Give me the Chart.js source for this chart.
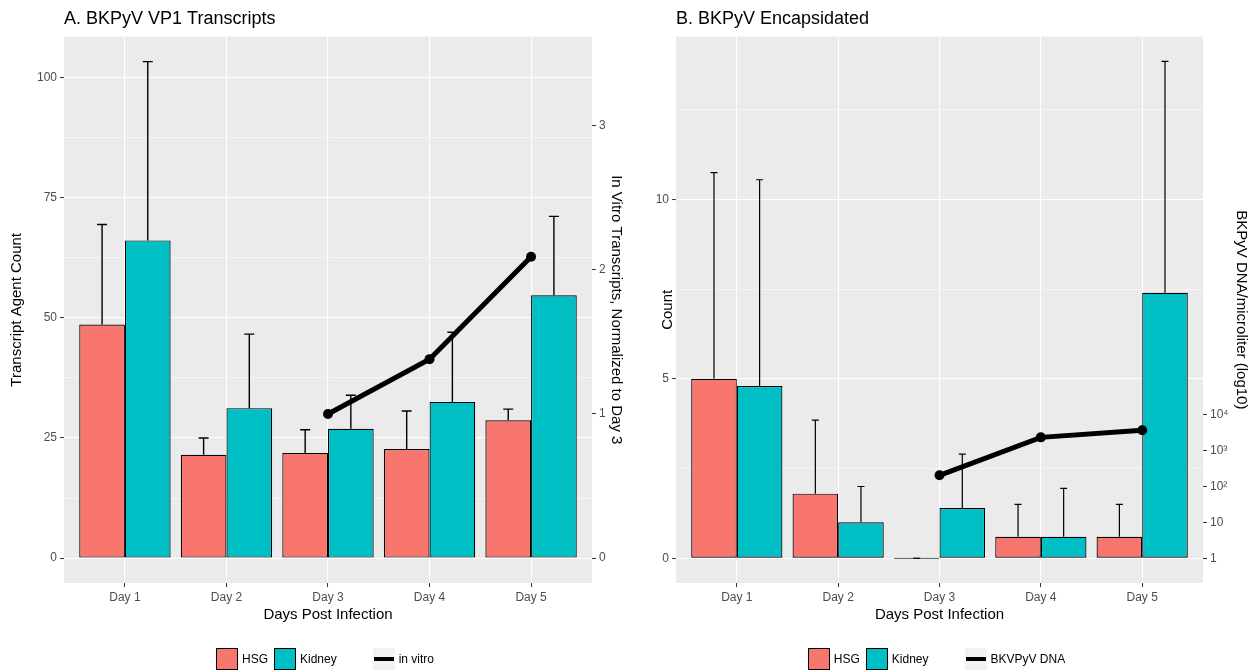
<!DOCTYPE html>
<html>
<head>
<meta charset="utf-8">
<script src="https://cdn.jsdelivr.net/npm/chart.js@4.4.1/dist/chart.umd.min.js"></script>
<style>
  body { margin: 0; background: #fff; font-family: "Liberation Sans", Arial, sans-serif; }
  #wrap { position: relative; width: 1252px; height: 671px; overflow: hidden; }
  .panel { position: absolute; top: 0; height: 671px; }
  .legend { position: absolute; top: 648px; height: 22px; display: flex; justify-content: center; align-items: center; font-size: 12px; color: #000; }
  .legend span { margin: 0 6px 0 4px; }
  .legend .gap { width: 30px; }
  .key { width: 22px; height: 22px; box-sizing: border-box; border: 1px solid #000; }
  .key.line { border: none; background: #F2F2F2; position: relative; }
  .key.line::after { content: ""; position: absolute; left: 1px; right: 1px; top: 9px; height: 4px; background: #000; }
</style>
</head>
<body>
<div id="wrap">
  <div class="panel" style="left:0;width:636px"><canvas id="chartA" width="636" height="671"></canvas></div>
  <div class="panel" style="left:636px;width:616px"><canvas id="chartB" width="616" height="671"></canvas></div>
  <div class="legend" style="left:64px;width:528px">
    <div class="key" style="background:#F8766D"></div><span>HSG</span>
    <div class="key" style="background:#00BFC4"></div><span>Kidney</span>
    <div class="gap"></div>
    <div class="key line"></div><span>in vitro</span>
  </div>
  <div class="legend" style="left:676px;width:527px">
    <div class="key" style="background:#F8766D"></div><span>HSG</span>
    <div class="key" style="background:#00BFC4"></div><span>Kidney</span>
    <div class="gap"></div>
    <div class="key line"></div><span>BKVPyV DNA</span>
  </div>
</div>
<script>
const days = ["Day 1", "Day 2", "Day 3", "Day 4", "Day 5"];
const dayPos = [1, 2, 3, 4, 5];

// A. VP1 transcripts (mean + sd)
const vp1Hsg = [48.6, 21.5, 21.9, 22.7, 28.7];
const vp1HsgSd = [20.8, 3.5, 4.8, 7.9, 2.3];
const vp1Kidney = [66.1, 31.2, 26.9, 32.5, 54.7];
const vp1KidneySd = [37.2, 15.4, 7.0, 14.5, 16.4];
const vp1InVitro = [null, null, 1.0, 1.38, 2.09];

// B. encapsidated counts (mean + sd), DNA copies per microliter
const encHsg = [5.0, 1.8, 0, 0.6, 0.6];
const encHsgSd = [5.75, 2.05, 0, 0.9, 0.9];
const encKidney = [4.8, 1.0, 1.4, 0.6, 7.4];
const encKidneySd = [5.75, 1.0, 1.5, 1.35, 6.45];
const encDna = [null, null, 205, 2340, 3700];

const ticksA = [0, 25, 50, 75, 100];
const ticksA2 = [0, 1, 2, 3];
const ticksB = [0, 5, 10];
const ticksB2 = [1, 10, 100, 1000, 10000];
const ticksB2Labels = ["1", "10", "10²", "10³", "10⁴"];

Chart.defaults.font.family = '"Liberation Sans", Arial, sans-serif';
Chart.defaults.color = "#4D4D4D";

const panelBg = {
  id: "panelBg",
  beforeDraw(chart) {
    const { ctx, chartArea: a } = chart;
    ctx.save();
    ctx.fillStyle = "#EBEBEB";
    ctx.fillRect(a.left, a.top, a.right - a.left, a.bottom - a.top);
    ctx.restore();
  },
};

const errorBars = {
  id: "errorBars",
  afterDatasetDraw(chart, args, opts) {
    const ds = chart.data.datasets[args.index];
    if (!ds.errors) return;
    const yScale = chart.scales[args.meta.yAxisID];
    const ctx = chart.ctx;
    ctx.save();
    ctx.strokeStyle = "#000";
    ctx.lineWidth = opts.width;
    args.meta.data.forEach((bar, i) => {
      const v = ds.data[i].y;
      const y0 = yScale.getPixelForValue(v);
      const y1 = yScale.getPixelForValue(v + ds.errors[i]);
      ctx.beginPath();
      ctx.moveTo(bar.x, y0);
      ctx.lineTo(bar.x, y1);
      ctx.moveTo(bar.x - opts.cap / 2, y1);
      ctx.lineTo(bar.x + opts.cap / 2, y1);
      ctx.stroke();
    });
    ctx.restore();
  },
};

function points(vals) {
  return vals.map((v, i) => ({ x: dayPos[i], y: v }));
}

function withMinor(major, max) {
  const step = major[1] - major[0];
  const out = [];
  major.forEach((m) => {
    out.push(m);
    if (m + step / 2 <= max) out.push(m + step / 2);
  });
  return out;
}

function barSet(label, vals, sds, color) {
  return {
    type: "bar",
    label: label,
    data: points(vals),
    errors: sds,
    backgroundColor: color,
    borderColor: "#000",
    borderWidth: 1.2,
    borderSkipped: false,
    minBarLength: 1,
    categoryPercentage: 0.9,
    barPercentage: 1,
    yAxisID: "y",
    order: 1,
  };
}

function xScale() {
  return {
    type: "linear",
    min: 0.4,
    max: 5.6,
    offset: false,
    afterBuildTicks: (s) => { s.ticks = dayPos.map((v) => ({ value: v })); },
    afterFit: (s) => { s.height = 42; },
    ticks: { callback: (v) => days[v - 1], font: { size: 12 }, padding: 3, autoSkip: false, maxRotation: 0 },
    grid: { color: "#fff", lineWidth: 1.1, offset: false, tickColor: "#333", tickLength: 4, tickWidth: 1 },
    border: { display: false },
    title: { display: true, text: "Days Post Infection", color: "#000", font: { size: 15, lineHeight: 1.2 }, padding: { top: 0, bottom: 1 } },
  };
}

function yLeft(major, min, max, width, title, pad) {
  return {
    position: "left",
    min: min,
    max: max,
    afterBuildTicks: (s) => { s.ticks = withMinor(major, max).map((v) => ({ value: v })); },
    afterFit: (s) => { s.width = width; },
    ticks: { callback: (v) => (major.includes(v) ? String(v) : ""), font: { size: 12 }, padding: 3, autoSkip: false },
    grid: {
      color: "#fff",
      lineWidth: (c) => (c.tick && major.includes(c.tick.value) ? 1.1 : 0.5),
      tickColor: (c) => (c.tick && major.includes(c.tick.value) ? "#333" : "rgba(0,0,0,0)"),
      tickLength: 4,
      tickWidth: 1,
    },
    border: { display: false },
    title: { display: true, text: title, color: "#000", font: { size: 15, lineHeight: 1.2 }, padding: { top: pad, bottom: 0 } },
  };
}

function opts(titleText, scales, cap, errWidth) {
  return {
    responsive: false,
    animation: false,
    layout: { padding: { top: 0, bottom: 46, left: 0, right: 0 } },
    scales: scales,
    plugins: {
      legend: { display: false },
      tooltip: { enabled: false },
      title: {
        display: true,
        text: titleText,
        align: "start",
        fullSize: false,
        color: "#000",
        font: { size: 18, weight: "normal", lineHeight: 1.2 },
        padding: { top: 8, bottom: 7 },
      },
      errorBars: { cap: cap, width: errWidth },
    },
  };
}

// Panel A
const A_MIN = -5.17, A_MAX = 108.5, A_RATIO = 30;
new Chart(document.getElementById("chartA"), {
  type: "bar",
  data: {
    datasets: [
      {
        type: "line",
        label: "in vitro",
        data: points(vp1InVitro),
        yAxisID: "y2",
        borderColor: "#000",
        borderWidth: 5,
        pointRadius: 5,
        pointBackgroundColor: "#000",
        pointBorderWidth: 0,
        order: 0,
      },
      barSet("HSG", vp1Hsg, vp1HsgSd, "#F8766D"),
      barSet("Kidney", vp1Kidney, vp1KidneySd, "#00BFC4"),
    ],
  },
  options: opts("A. BKPyV VP1 Transcripts", {
    x: xScale(),
    y: yLeft(ticksA, A_MIN, A_MAX, 64, "Transcript Agent Count", 8),
    y2: {
      position: "right",
      min: A_MIN / A_RATIO,
      max: A_MAX / A_RATIO,
      afterBuildTicks: (s) => { s.ticks = ticksA2.map((v) => ({ value: v })); },
      afterFit: (s) => { s.width = 44; },
      ticks: { font: { size: 12 }, padding: 3 },
      grid: { drawOnChartArea: false, tickColor: "#333", tickLength: 4, tickWidth: 1 },
      border: { display: false },
      title: { display: true, text: "In Vitro Transcripts, Normalized to Day 3", color: "#000", font: { size: 15, lineHeight: 1.2 }, padding: { top: 11, bottom: 0 } },
    },
  }, 10, 1.4),
  plugins: [panelBg, errorBars],
});

// Panel B
const B_MIN = -0.69, B_MAX = 14.54;
new Chart(document.getElementById("chartB"), {
  type: "bar",
  data: {
    datasets: [
      {
        type: "line",
        label: "BKVPyV DNA",
        data: points(encDna),
        yAxisID: "y2",
        borderColor: "#000",
        borderWidth: 5,
        pointRadius: 5,
        pointBackgroundColor: "#000",
        pointBorderWidth: 0,
        order: 0,
      },
      barSet("HSG", encHsg, encHsgSd, "#F8766D"),
      barSet("Kidney", encKidney, encKidneySd, "#00BFC4"),
    ],
  },
  options: opts("B. BKPyV Encapsidated", {
    x: xScale(),
    y: yLeft(ticksB, B_MIN, B_MAX, 40, "Count", 23),
    y2: {
      type: "logarithmic",
      position: "right",
      min: Math.pow(10, B_MIN),
      max: Math.pow(10, B_MAX),
      afterBuildTicks: (s) => { s.ticks = ticksB2.map((v) => ({ value: v })); },
      afterFit: (s) => { s.width = 49; },
      ticks: { callback: (v) => ticksB2Labels[ticksB2.indexOf(v)], font: { size: 12 }, padding: 3 },
      grid: { drawOnChartArea: false, tickColor: "#333", tickLength: 4, tickWidth: 1 },
      border: { display: false },
      title: { display: true, text: "BKPyV DNA/microliter (log10)", color: "#000", font: { size: 15, lineHeight: 1.2 }, padding: { top: 2, bottom: 0 } },
    },
  }, 7, 1.2),
  plugins: [panelBg, errorBars],
});
</script>
</body>
</html>
